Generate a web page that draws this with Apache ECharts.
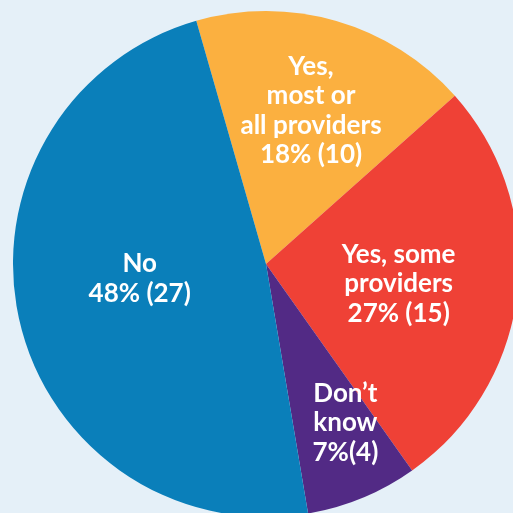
<!DOCTYPE html>
<html>
<head>
<meta charset="utf-8">
<script src="https://cdn.jsdelivr.net/npm/echarts@6/dist/echarts.min.js"></script>
<style>
  html, body { margin: 0; padding: 0; background: #E5F0F8; }
  #chart { width: 513px; height: 513px; }
</style>
</head>
<body>
<div id="chart"></div>
<script>
// Survey answers: do providers do this?
const categories = ['Yes,\nmost or\nall providers', 'Yes, some\nproviders', 'Don\u2019t\nknow', 'No'];
const counts = [10, 15, 4, 27];

// Styling per slice
const sliceColors = ['#FBB040', '#EF4136', '#522A85', '#0A7FBA'];
const valueSeparators = [' ', ' ', '', ' '];
const labelOffsets = [[9, -29], [4, 5], [30, 39], [0, -14]];

const chart = echarts.init(document.getElementById('chart'), null, { renderer: 'canvas' });

chart.setOption({
  backgroundColor: '#E5F0F8',
  animation: false,
  series: [{
    type: 'pie',
    center: [266, 264],
    radius: [0, 253],
    startAngle: 106,
    clockwise: true,
    avoidLabelOverlap: false,
    silent: true,
    itemStyle: { borderWidth: 0 },
    label: {
      show: true,
      position: 'inside',
      color: '#ffffff',
      fontFamily: 'Lato',
      fontWeight: 'bold',
      fontSize: 26,
      lineHeight: 29.5,
      align: 'center',
      formatter: function (p) {
        return p.name + '\n' + Math.round(p.percent) + '%' + valueSeparators[p.dataIndex] + '(' + p.value + ')';
      }
    },
    labelLine: { show: false },
    data: categories.map((name, i) => ({
      name: name,
      value: counts[i],
      itemStyle: { color: sliceColors[i] },
      label: { offset: labelOffsets[i] }
    }))
  }]
});
</script>
</body>
</html>
